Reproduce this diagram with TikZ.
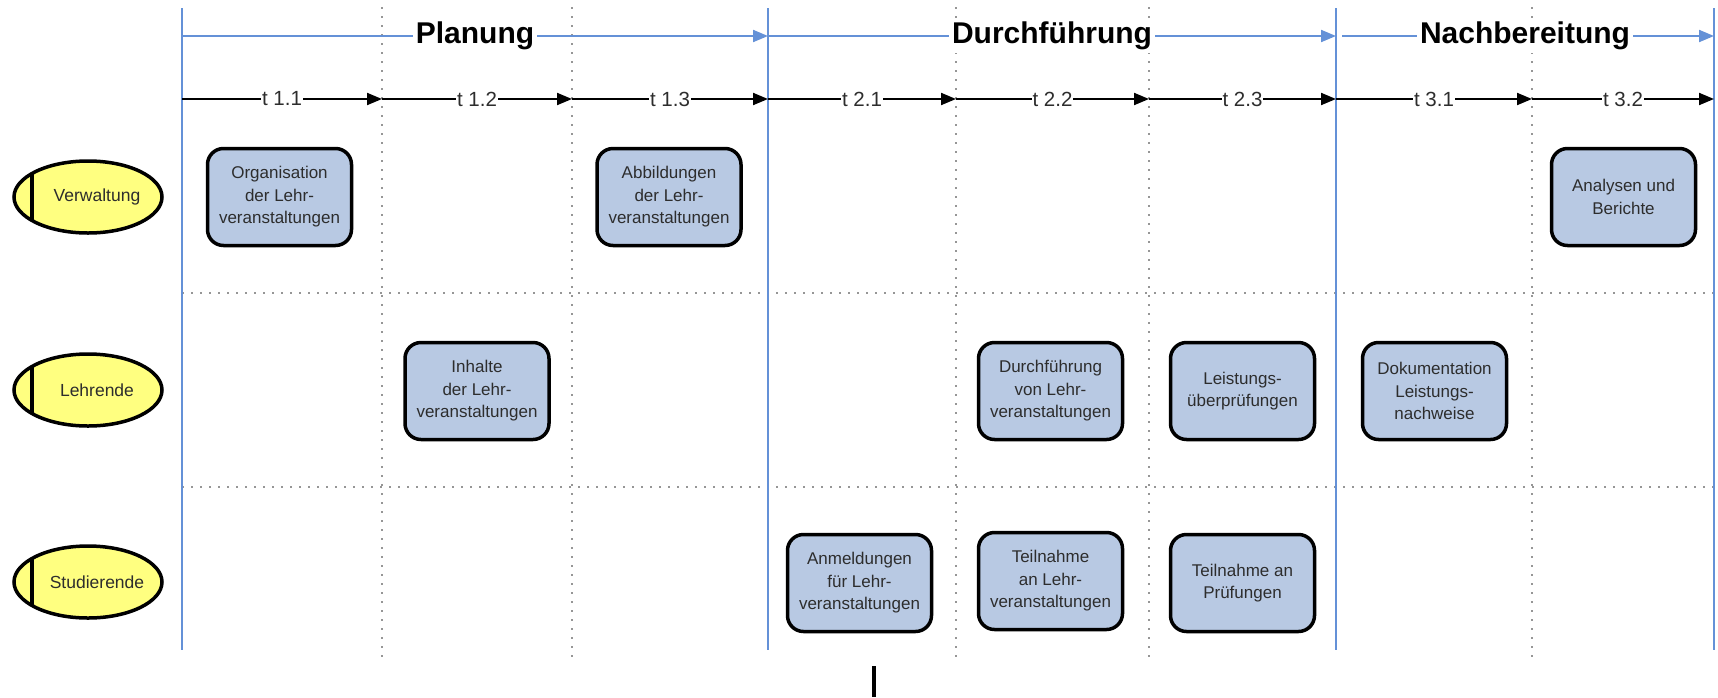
\documentclass[tikz,border=0pt]{standalone}
\usepackage{fontspec}
\setmainfont{Liberation Sans}
\usetikzlibrary{arrows.meta,shapes.geometric}
\definecolor{laneblue}{RGB}{100,145,215}
\definecolor{boxfill}{RGB}{184,201,227}
\definecolor{actorfill}{RGB}{255,255,128}
\definecolor{gridgray}{RGB}{150,150,150}
\definecolor{textgray}{RGB}{45,45,45}
\tikzset{
  bluerule/.style={draw=laneblue,line width=2pt},
  gridline/.style={draw=gridgray,line width=1.3pt,dash pattern=on 1.5pt off 7.5pt},
  phasearrow/.style={draw=laneblue,line width=2pt,-{Triangle[length=15pt,width=12pt]}},
  phaselabel/.style={fill=white,inner sep=3pt,font=\fontsize{30}{35}\selectfont\bfseries},
  tarrow/.style={draw=black,line width=2pt,-{Triangle[length=15pt,width=12pt]}},
  tlabel/.style={fill=white,inner sep=1pt,text=textgray,font=\fontsize{20.5}{24}\selectfont},
  task/.style={draw=black,line width=3.5pt,fill=boxfill,rounded corners=16pt,
    minimum width=144pt,minimum height=97pt,align=center,inner sep=2pt,text=textgray,
    font=\fontsize{17}{22.5}\selectfont},
  actor/.style={ellipse,draw=black,line width=3.5pt,fill=actorfill,
    minimum width=148pt,minimum height=72pt,inner sep=0pt},
  actorlabel/.style={text=textgray,font=\fontsize{17.5}{21}\selectfont}
}
\begin{document}
\begin{tikzpicture}[x=1pt,y=-1pt]
\useasboundingbox (0,0) rectangle (1718,697);
% grid lines
\foreach \x in {382,572,956,1149,1532}{
  \draw[gridline] (\x,7) -- (\x,658);
}
\foreach \y in {293,487}{
  \draw[gridline] (182,\y) -- (1714,\y);
}
\foreach \x in {182,768,1336,1714}{
  \draw[bluerule] (\x,8) -- (\x,650);
}
% coordinates
\coordinate (h0) at (182,36);
\coordinate (h1) at (768,36);
\coordinate (h2a) at (1342,36);
\coordinate (h2) at (1336,36);
\coordinate (h3) at (1714,36);
\coordinate (a0) at (182,99);
\coordinate (a1) at (382,99);
\coordinate (a2) at (572,99);
\coordinate (a3) at (768,99);
\coordinate (a4) at (956,99);
\coordinate (a5) at (1149,99);
\coordinate (a6) at (1336,99);
\coordinate (a7) at (1532,99);
\coordinate (a8) at (1714,99);
% phases
\draw[phasearrow] (h0) -- node[phaselabel] (pPlan) {Planung} (h1);
\draw[phasearrow] (h1) -- node[phaselabel] (pDurch) {Durchführung} (h2);
\draw[phasearrow] (h2a) -- node[phaselabel,xshift=-3pt] (pNach) {Nachbereitung} (h3);
% time steps
\draw[tarrow] (a0) -- node[tlabel] (t11) {t 1.1} (a1);
\draw[tarrow] (a1) -- node[tlabel] (t12) {t 1.2} (a2);
\draw[tarrow] (a2) -- node[tlabel] (t13) {t 1.3} (a3);
\draw[tarrow] (a3) -- node[tlabel] (t21) {t 2.1} (a4);
\draw[tarrow] (a4) -- node[tlabel] (t22) {t 2.2} (a5);
\draw[tarrow] (a5) -- node[tlabel] (t23) {t 2.3} (a6);
\draw[tarrow] (a6) -- node[tlabel] (t31) {t 3.1} (a7);
\draw[tarrow] (a7) -- node[tlabel] (t32) {t 3.2} (a8);
% actors
\foreach \n/\y/\t in {verw/197/Verwaltung,lehr/390/Lehrende,stud/582/Studierende}{
  \node[actor] (\n) at (88,\y) {};
  \begin{scope}
    \clip (88,\y) ellipse [x radius=74pt,y radius=36pt];
    \draw[line width=3.5pt] (32,\y-40) -- (32,\y+40);
  \end{scope}
  \node[actorlabel] (\n-label) at (97,\y) {\t};
}
% tasks
\node[task] (org) at (279.5,197) {Organisation\\der Lehr-\\veranstaltungen};
\node[task] (abb) at (669,197) {Abbildungen\\der Lehr-\\veranstaltungen};
\node[task] (ana) at (1623.5,197) {Analysen und\\Berichte};
\node[task] (inh) at (477,391) {Inhalte\\der Lehr-\\veranstaltungen};
\node[task] (dfv) at (1050.5,391) {Durchführung\\von Lehr-\\veranstaltungen};
\node[task] (lei) at (1242.5,391) {Leistungs-\\überprüfungen};
\node[task] (dok) at (1434.5,391) {Dokumentation\\Leistungs-\\nachweise};
\node[task] (anm) at (859.5,583) {Anmeldungen\\für Lehr-\\veranstaltungen};
\node[task] (tlv) at (1050.5,581) {Teilnahme\\an Lehr-\\veranstaltungen};
\node[task] (tpr) at (1242.5,583) {Teilnahme an\\Prüfungen};
% small bar at bottom
\draw[line width=4pt] (874,666) -- (874,697);
\end{tikzpicture}
\end{document}
